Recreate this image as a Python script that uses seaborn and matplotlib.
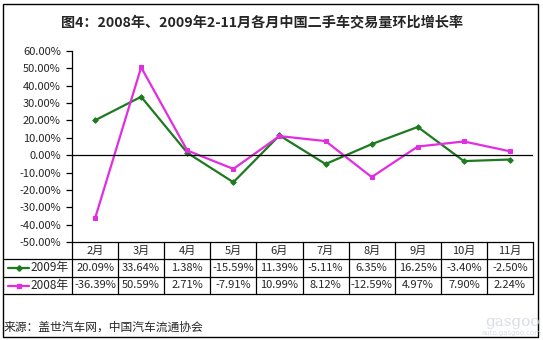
import matplotlib
matplotlib.use("Agg")
import matplotlib.pyplot as plt
from matplotlib.lines import Line2D
from matplotlib.patches import Rectangle
import matplotlib.transforms as mtransforms
import seaborn as sns
import pandas as pd

months = ["2月", "3月", "4月", "5月", "6月", "7月", "8月", "9月", "10月", "11月"]
growth_2009 = [20.09, 33.64, 1.38, -15.59, 11.39, -5.11, 6.35, 16.25, -3.40, -2.50]
growth_2008 = [-36.39, 50.59, 2.71, -7.91, 10.99, 8.12, -12.59, 4.97, 7.90, 2.24]
series_names = ["2009年", "2008年"]
y_ticks = [60, 50, 40, 30, 20, 10, 0, -10, -20, -30, -40, -50]
title = "图4：2008年、2009年2-11月各月中国二手车交易量环比增长率"
source = "来源：盖世汽车网，中国汽车流通协会"

sns.set_style("white")
plt.rcParams["font.family"] = ["Noto Sans CJK SC", "DejaVu Sans"]

W, H = 543, 340
fig = plt.figure(figsize=(W / 100, H / 100), dpi=100)


def fx(px):
    return px / W


def fy(py):
    return 1 - py / H


# plot area in pixel terms
L, R, T, B = 72, 533, 51, 242
ax = fig.add_axes([fx(L), fy(B), fx(R) - fx(L), fy(T) - fy(B)])

green = "#1e7a1e"
magenta = "#e02ee0"
styles = [(growth_2009, green, "D", 2.8), (growth_2008, magenta, "s", 3.3)]

df = pd.DataFrame({"x": list(range(len(months))) * 2,
                   "v": growth_2009 + growth_2008,
                   "s": [series_names[0]] * len(months) + [series_names[1]] * len(months)})

for (vals, col, mk, ms), name in zip(styles, series_names):
    sub = df[df["s"] == name]
    sns.lineplot(data=sub, x="x", y="v", ax=ax, color=col, marker=mk,
                 markersize=ms, markeredgecolor=col, linewidth=1.6,
                 legend=False)

ax.set_xlim(-0.5, len(months) - 0.5)
ax.set_ylim(-50, 60)
ax.axhline(0, color="black", linewidth=0.9)
ax.set_yticks(y_ticks)
ax.set_yticklabels([f"{t:.2f}%" for t in y_ticks], fontsize=8)
ax.set_xticks([])
ax.set_xlabel("")
ax.set_ylabel("")
for s in ["top", "right", "bottom"]:
    ax.spines[s].set_visible(False)
ax.spines["left"].set_color("black")
ax.spines["left"].set_linewidth(0.9)
ax.tick_params(axis="y", direction="out", length=4, width=0.9, color="black",
               pad=4, left=True)
ax.patch.set_alpha(0)

# outer frame
fig.add_artist(Rectangle((fx(3), fy(337)), fx(538) - fx(3), fy(4) - fy(337),
                         transform=fig.transFigure, fill=False,
                         edgecolor="black", linewidth=1.0))

fig.text(fx(262), fy(22), title, ha="center", va="center", fontsize=10.2,
         fontweight="bold")

# data table below the plot
rows = [242, 259, 277, 294]
lw = 0.9


def hline(x0, x1, y):
    fig.add_artist(Line2D([fx(x0), fx(x1)], [fy(y), fy(y)],
                          transform=fig.transFigure, color="black", linewidth=lw))


def vline(x, y0, y1):
    fig.add_artist(Line2D([fx(x), fx(x)], [fy(y0), fy(y1)],
                          transform=fig.transFigure, color="black", linewidth=lw))


hline(L, R, rows[0])
for y in rows[1:]:
    hline(3, R, y)
col_w = (R - L) / len(months)
for i in range(len(months) + 1):
    vline(L + i * col_w, rows[0], rows[3])

blend = mtransforms.blended_transform_factory(ax.transData, fig.transFigure)
for i, m in enumerate(months):
    fig.text(i, fy((rows[0] + rows[1]) / 2), m, transform=blend,
             ha="center", va="center", fontsize=8)
for r, vals in enumerate([growth_2009, growth_2008]):
    yc = fy((rows[r + 1] + rows[r + 2]) / 2)
    for i, v in enumerate(vals):
        fig.text(i, yc, f"{v:.2f}%", transform=blend, ha="center",
                 va="center", fontsize=8)
    col, mk, ms = styles[r][1], styles[r][2], styles[r][3]
    fig.add_artist(Line2D([fx(8), fx(29)], [yc, yc], transform=fig.transFigure,
                          color=col, linewidth=1.6))
    fig.add_artist(Line2D([fx(18.5)], [yc], transform=fig.transFigure,
                          color=col, marker=mk, markersize=ms,
                          markeredgecolor=col))
    fig.text(fx(30), yc, series_names[r], ha="left", va="center", fontsize=8.5)

fig.text(fx(4), fy(327), source, ha="left", va="center", fontsize=8.5)

# site watermark
fig.text(fx(512), fy(322), "gasgoo", ha="center", va="center", fontsize=11,
         color="#d9dde5", family="DejaVu Serif")
fig.text(fx(512), fy(333), "auto.gasgoo.com", ha="center", va="center",
         fontsize=5, color="#d9dde5", family="DejaVu Sans")

fig.savefig("out.png", dpi=100, facecolor="white")
